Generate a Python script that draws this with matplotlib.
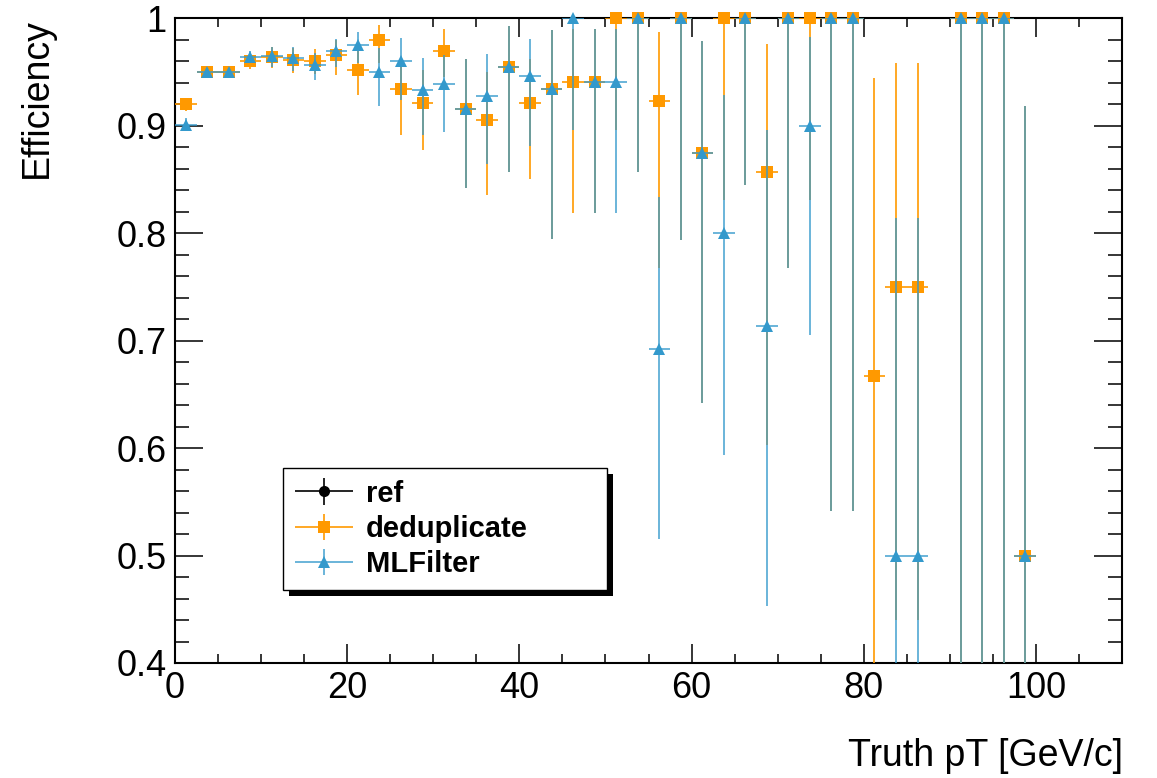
import matplotlib
matplotlib.use("Agg")
import matplotlib.pyplot as plt
import numpy as np
from matplotlib.container import ErrorbarContainer
from matplotlib.legend_handler import HandlerErrorbar
from matplotlib.patches import Rectangle
from matplotlib.ticker import MultipleLocator, FuncFormatter

plt.rcParams["font.family"] = ["Liberation Sans", "DejaVu Sans"]

# bin centres of truth pT [GeV/c], bins are 2.5 GeV wide
pt_centers = [1.25, 3.75, 6.25, 8.75, 11.25, 13.75, 16.25, 18.75, 21.25, 23.75,
              26.25, 28.75, 31.25, 33.75, 36.25, 38.75, 41.25, 43.75, 46.25, 48.75,
              51.25, 53.75, 56.25, 58.75, 61.25, 63.75, 66.25, 68.75, 71.25, 73.75,
              76.25, 78.75, 81.25, 83.75, 86.25, 88.75, 91.25, 93.75, 96.25, 98.75]
bin_half_width = 1.25

nan = np.nan

# deduplicate: efficiency and lower / upper edge of its error bar
dedup_eff = [0.920, 0.950, 0.950, 0.960, 0.964, 0.961, 0.960, 0.966, 0.952, 0.980,
             0.934, 0.921, 0.970, 0.916, 0.905, 0.955, 0.921, 0.934, 0.941, 0.941,
             1.000, 1.000, 0.923, 1.000, 0.875, 1.000, 1.000, 0.857, 1.000, 1.000,
             1.000, 1.000, 0.667, 0.750, 0.750, nan, 1.000, 1.000, 1.000, 0.500]
dedup_lo = [0.914, 0.946, 0.946, 0.953, 0.954, 0.949, 0.948, 0.947, 0.929, 0.958,
            0.891, 0.877, 0.945, 0.842, 0.836, 0.857, 0.850, 0.795, 0.819, 0.819,
            0.896, 0.857, 0.768, 0.794, 0.642, 0.831, 0.845, 0.603, 0.768, 0.831,
            0.541, 0.541, 0.200, 0.440, 0.440, nan, 0.160, 0.160, 0.160, 0.080]
dedup_hi = [0.926, 0.954, 0.954, 0.966, 0.973, 0.972, 0.971, 0.980, 0.970, 0.994,
            0.962, 0.952, 0.990, 0.962, 0.950, 0.993, 0.962, 0.989, 0.990, 0.990,
            1.000, 1.000, 0.987, 1.000, 0.979, 1.000, 1.000, 0.976, 1.000, 1.000,
            1.000, 1.000, 0.944, 0.958, 0.958, nan, 1.000, 1.000, 1.000, 0.918]

# MLFilter
ml_eff = [0.901, 0.950, 0.950, 0.964, 0.965, 0.963, 0.957, 0.970, 0.975, 0.950,
          0.960, 0.933, 0.939, 0.916, 0.928, 0.955, 0.946, 0.934, 1.000, 0.941,
          0.941, 1.000, 0.692, 1.000, 0.875, 0.800, 1.000, 0.714, 1.000, 0.900,
          1.000, 1.000, nan, 0.500, 0.500, nan, 1.000, 1.000, 1.000, 0.500]
ml_lo = [0.895, 0.946, 0.946, 0.958, 0.955, 0.951, 0.943, 0.955, 0.958, 0.918,
         0.924, 0.891, 0.894, 0.842, 0.864, 0.857, 0.881, 0.795, 0.896, 0.819,
         0.819, 0.857, 0.515, 0.794, 0.642, 0.594, 0.845, 0.453, 0.768, 0.705,
         0.541, 0.541, nan, 0.080, 0.080, nan, 0.160, 0.160, 0.160, 0.080]
ml_hi = [0.907, 0.954, 0.954, 0.970, 0.973, 0.973, 0.968, 0.981, 0.987, 0.972,
         0.982, 0.963, 0.966, 0.962, 0.967, 0.993, 0.981, 0.989, 1.000, 0.990,
         0.990, 1.000, 0.834, 1.000, 0.979, 0.929, 1.000, 0.896, 1.000, 0.983,
         1.000, 1.000, nan, 0.814, 0.814, nan, 1.000, 1.000, 1.000, 0.918]

# ref is hidden in the picture, only its legend entry is visible
ref_pt = []
ref_eff = []

labels = ["ref", "deduplicate", "MLFilter"]
orange = "#ff9900"
blue = "#3399cc"


def draw_eff(ax, eff, lo, hi, color, marker, ms, alpha, z):
    eff = np.asarray(eff, float)
    lo = np.asarray(lo, float)
    hi = np.asarray(hi, float)
    cont = ax.errorbar(pt_centers, eff, xerr=bin_half_width,
                       yerr=[eff - lo, hi - eff], fmt=marker, color=color,
                       ms=ms, mew=0, elinewidth=1.2, capsize=0, zorder=z)
    cont[0].set_clip_on(False)
    for coll in cont[2]:
        coll.set_alpha(alpha)
    return cont


fig = plt.figure(figsize=(11.57, 7.78), dpi=100)
ax = fig.add_axes([175 / 1157, 1 - 663 / 778, 947 / 1157, 644.7 / 778])

ref_h = ax.errorbar(ref_pt, ref_eff, xerr=[], yerr=[], fmt="o", color="black",
                    ms=8, mew=0, elinewidth=1.2, capsize=0)
dedup_h = draw_eff(ax, dedup_eff, dedup_lo, dedup_hi, orange, "s", 8.6, 1.0, 3)
ml_h = draw_eff(ax, ml_eff, ml_lo, ml_hi, blue, "^", 9, 0.85, 4)

ax.set_xlim(0, 110)
ax.set_ylim(0.4, 1.0)

ax.xaxis.set_major_locator(MultipleLocator(20))
ax.xaxis.set_minor_locator(MultipleLocator(5))
ax.yaxis.set_major_locator(MultipleLocator(0.1))
ax.yaxis.set_minor_locator(MultipleLocator(0.02))
fmt = FuncFormatter(lambda v, p: f"{v:g}")
ax.xaxis.set_major_formatter(fmt)
ax.yaxis.set_major_formatter(fmt)

ax.tick_params(axis="both", which="both", direction="in", top=True, right=True,
               width=1.1, labelsize=26)
ax.tick_params(axis="x", which="major", length=13.7, pad=6)
ax.tick_params(axis="x", which="minor", length=6.8)
ax.tick_params(axis="y", which="major", length=20, pad=6)
ax.tick_params(axis="y", which="minor", length=10)
for sp in ax.spines.values():
    sp.set_linewidth(1.5)

fig.text(37 / 1157, 1 - 18 / 778, "Efficiency", rotation=90, ha="center",
         va="top", fontsize=27)
fig.text(1123 / 1157, 1 - 766 / 778, "Truth pT [GeV/c]", ha="right",
         va="baseline", fontsize=27)

leg = ax.legend([ref_h, dedup_h, ml_h], labels, loc="upper left",
                bbox_to_anchor=(283 / 1157, 1 - 468 / 778, 324 / 1157, 0),
                bbox_transform=fig.transFigure, mode="expand", borderaxespad=0,
                fancybox=False, edgecolor="black", framealpha=1,
                prop={"weight": "bold", "size": 21},
                handler_map={ErrorbarContainer: HandlerErrorbar(xerr_size=1.0, yerr_size=0.45)},
                handlelength=2, handletextpad=0.45, borderpad=0.4,
                labelspacing=0.25)
leg.get_frame().set_linewidth(1.0)

fig.canvas.draw()
bb = leg.get_window_extent().transformed(fig.transFigure.inverted())
shadow = Rectangle((bb.x0 + 6 / 1157, bb.y0 - 6 / 778), bb.width, bb.height,
                   transform=fig.transFigure, facecolor="black",
                   edgecolor="none", zorder=4.5, clip_on=False)
ax.add_patch(shadow)

fig.savefig("out.png", dpi=100)
